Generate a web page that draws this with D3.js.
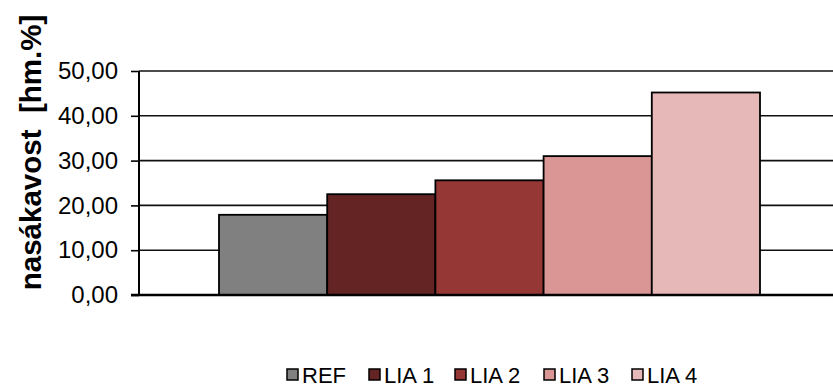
<!DOCTYPE html>
<html>
<head>
<meta charset="utf-8">
<script src="https://cdn.jsdelivr.net/npm/d3@7/dist/d3.min.js"></script>
<style>
  html, body { margin: 0; padding: 0; background: #fff; }
  svg { display: block; font-family: "Liberation Sans", Arial, sans-serif; }
</style>
</head>
<body>
<svg id="chart" width="833" height="388"></svg>
<script>
// Water absorption by mix (nasákavost, % by mass)
const series = ["REF", "LIA 1", "LIA 2", "LIA 3", "LIA 4"];
const values = [17.9, 22.5, 25.6, 31.0, 45.2];
const colors = ["#808080", "#632423", "#953735", "#D99694", "#E6B9B8"];
const yTicks = [0, 10, 20, 30, 40, 50];
const yTitle = "nasákavost  [hm.%]";

const svg = d3.select("#chart");
const W = 833, H = 388;
const plot = { left: 139, right: 840, top: 71, bottom: 295 };

const y = d3.scaleLinear().domain([0, 50]).range([plot.bottom, plot.top]);
const x = d3.scaleBand().domain(series).range([219, 760]).padding(0);

const fmt = d => d.toFixed(2).replace(".", ",");

// horizontal gridlines
svg.append("g")
  .selectAll("line")
  .data(yTicks.filter(t => t > 0))
  .join("line")
  .attr("x1", plot.left).attr("x2", W)
  .attr("y1", d => y(d)).attr("y2", d => y(d))
  .attr("stroke", "#111").attr("stroke-width", 1.6);

// bars
svg.append("g")
  .selectAll("rect")
  .data(series)
  .join("rect")
  .attr("x", d => x(d))
  .attr("y", (d, i) => y(values[i]))
  .attr("width", x.bandwidth())
  .attr("height", (d, i) => y(0) - y(values[i]))
  .attr("fill", (d, i) => colors[i])
  .attr("stroke", "#000")
  .attr("stroke-width", 1.8);

// y axis
const yAxis = d3.axisLeft(y)
  .tickValues(yTicks)
  .tickFormat(fmt)
  .tickSize(8)
  .tickPadding(13);
const ga = svg.append("g")
  .attr("transform", `translate(${plot.left},0)`)
  .call(yAxis);
ga.select(".domain").attr("stroke", "#000").attr("stroke-width", 2)
  .attr("d", `M0,${plot.top}V${plot.bottom}`);
ga.selectAll(".tick line").attr("stroke", "#000").attr("stroke-width", 1.6);
ga.selectAll(".tick text")
  .attr("fill", "#000")
  .style("font-size", "24px")
  .style("font-family", "'Liberation Sans', Arial, sans-serif");

// category axis baseline
svg.append("line")
  .attr("x1", plot.left - 8).attr("x2", W)
  .attr("y1", y(0)).attr("y2", y(0))
  .attr("stroke", "#000").attr("stroke-width", 2.6);

// y axis title
svg.append("text")
  .attr("transform", `translate(41,${(14 + 291) / 2}) rotate(-90)`)
  .attr("text-anchor", "middle")
  .style("font-size", "29.5px")
  .style("font-weight", "bold")
  .style("white-space", "pre")
  .attr("xml:space", "preserve")
  .text(yTitle);

// legend
const legendX = [287, 369, 455, 544, 632];
const lg = svg.append("g")
  .selectAll("g")
  .data(series)
  .join("g")
  .attr("transform", (d, i) => `translate(${legendX[i]},369)`);
lg.append("rect")
  .attr("width", 11).attr("height", 11)
  .attr("fill", (d, i) => colors[i])
  .attr("stroke", "#000").attr("stroke-width", 1.5);
lg.append("text")
  .attr("x", 15).attr("y", 14)
  .style("font-size", "22px")
  .text(d => d);
</script>
</body>
</html>
